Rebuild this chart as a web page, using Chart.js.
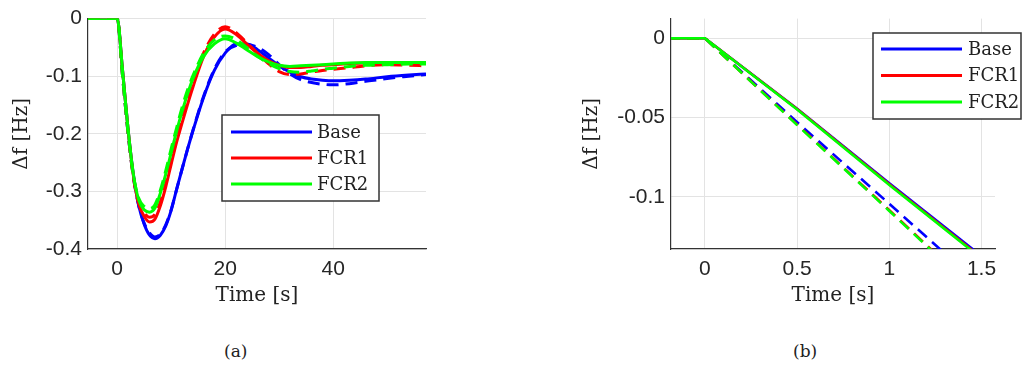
<!DOCTYPE html>
<html>
<head>
<meta charset="utf-8">
<script src="https://cdn.jsdelivr.net/npm/chart.js@4.4.1/dist/chart.umd.min.js"></script>
<style>
  body { margin: 0; background: #fff; width: 1022px; height: 371px; position: relative; overflow: hidden; }
  .wrap { position: absolute; top: 0; height: 310px; }
  .cap { position: absolute; top: 341px; font: 17px "DejaVu Serif", serif; color: #222; }
</style>
</head>
<body>
<div class="wrap" style="left:0;width:440px"><canvas id="chartA"></canvas></div>
<div class="wrap" style="left:570px;width:452px"><canvas id="chartB"></canvas></div>
<div class="cap" style="left:224px">(a)</div>
<div class="cap" style="left:793px">(b)</div>

<script>
// series names (legend)
const seriesNames = ['Base', 'FCR1', 'FCR2'];

// (a) long time response
const timeA = [-5.4, 0, 1, 2, 3, 4, 5, 6, 7, 8, 9, 10, 11, 12, 13, 14, 16, 18, 20, 22, 24, 26, 28, 30, 32, 34, 36, 38, 40, 43, 46, 50, 54, 57.2];
const baseA = [0, 0, -0.09, -0.19, -0.27, -0.325, -0.357, -0.376, -0.382, -0.376, -0.36, -0.333, -0.297, -0.262, -0.228, -0.196, -0.137, -0.09, -0.06, -0.044, -0.044, -0.054, -0.068, -0.082, -0.093, -0.101, -0.105, -0.107, -0.108, -0.107, -0.105, -0.101, -0.098, -0.096];
const fcr1A = [0, 0, -0.09, -0.19, -0.272, -0.322, -0.343, -0.353, -0.348, -0.325, -0.292, -0.253, -0.215, -0.182, -0.15, -0.12, -0.066, -0.032, -0.018, -0.027, -0.044, -0.06, -0.073, -0.081, -0.085, -0.085, -0.083, -0.081, -0.08, -0.078, -0.077, -0.077, -0.078, -0.078];
const fcr2A = [0, 0, -0.09, -0.19, -0.27, -0.315, -0.332, -0.336, -0.329, -0.303, -0.27, -0.233, -0.196, -0.162, -0.132, -0.105, -0.066, -0.044, -0.035, -0.042, -0.054, -0.066, -0.075, -0.081, -0.083, -0.082, -0.081, -0.08, -0.079, -0.077, -0.076, -0.076, -0.076, -0.076];
const baseDashA = [0, 0, -0.1, -0.198, -0.275, -0.325, -0.355, -0.372, -0.379, -0.374, -0.358, -0.332, -0.297, -0.262, -0.228, -0.195, -0.135, -0.088, -0.058, -0.047, -0.045, -0.05, -0.062, -0.08, -0.096, -0.106, -0.111, -0.114, -0.115, -0.113, -0.109, -0.104, -0.1, -0.097];
const fcr1DashA = [0, 0, -0.1, -0.197, -0.275, -0.32, -0.337, -0.345, -0.34, -0.318, -0.286, -0.248, -0.21, -0.176, -0.143, -0.113, -0.06, -0.027, -0.014, -0.024, -0.042, -0.06, -0.078, -0.092, -0.097, -0.096, -0.093, -0.09, -0.088, -0.085, -0.082, -0.08, -0.081, -0.082];
const fcr2DashA = [0, 0, -0.1, -0.196, -0.272, -0.312, -0.326, -0.33, -0.323, -0.298, -0.264, -0.226, -0.19, -0.155, -0.125, -0.1, -0.06, -0.037, -0.03, -0.036, -0.05, -0.065, -0.078, -0.087, -0.092, -0.093, -0.091, -0.088, -0.086, -0.083, -0.081, -0.08, -0.079, -0.079];
const xTicksA = [0, 20, 40];
const yTicksA = [0, -0.1, -0.2, -0.3, -0.4];

// (b) zoom on first 1.5 s
const timeB = [-0.2, 0, 0.5, 1, 1.5];
const baseB = [0, 0, -0.0445, -0.0915, -0.1375];
const fcr1B = [0, 0, -0.0447, -0.0922, -0.1385];
const fcr2B = [0, 0, -0.045, -0.0926, -0.139];
const baseDashB = [0, 0, -0.053, -0.1045, -0.1565];
const fcr1DashB = [0, 0, -0.0545, -0.1085, -0.163];
const fcr2DashB = [0, 0, -0.0548, -0.109, -0.1635];
const xTicksB = [0, 0.5, 1, 1.5];
const yTicksB = [0, -0.05, -0.1];

const colors = ['#0000ff', '#ff0000', '#00ff00'];
const drawOrder = [5, 3, 1]; // green on top, like the figure

function makeDatasets(time, solid, dashed, smooth, width) {
  const ds = [];
  solid.forEach((vals, i) => {
    ds.push({
      label: seriesNames[i], inLegend: true,
      data: time.map((t, k) => ({ x: t, y: vals[k] })),
      borderColor: colors[i], borderWidth: width, pointRadius: 0,
      cubicInterpolationMode: smooth ? 'monotone' : 'default', tension: 0,
      order: drawOrder[i]
    });
    ds.push({
      label: seriesNames[i] + ' (dashed)', inLegend: false,
      data: time.map((t, k) => ({ x: t, y: dashed[i][k] })),
      borderColor: colors[i], borderWidth: width, borderDash: [12, 7], pointRadius: 0,
      cubicInterpolationMode: smooth ? 'monotone' : 'default', tension: 0,
      order: drawOrder[i] + 1
    });
  });
  return ds;
}

// legend box drawn inside the axes, matlab style
const boxLegend = {
  id: 'boxLegend',
  afterDraw(chart, args, opts) {
    const ctx = chart.ctx;
    ctx.save();
    ctx.fillStyle = '#fff';
    ctx.fillRect(opts.x, opts.y, opts.w, opts.h);
    ctx.strokeStyle = '#333';
    ctx.lineWidth = 1.5;
    ctx.strokeRect(opts.x, opts.y, opts.w, opts.h);
    ctx.font = '18px "DejaVu Serif"';
    ctx.textBaseline = 'middle';
    ctx.fillStyle = '#222';
    chart.data.datasets.filter(d => d.inLegend).forEach((d, i) => {
      const yy = opts.y + opts.first + i * opts.step;
      ctx.strokeStyle = d.borderColor;
      ctx.lineWidth = 3;
      ctx.beginPath();
      ctx.moveTo(opts.x + opts.lineStart, yy);
      ctx.lineTo(opts.x + opts.lineStart + 81, yy);
      ctx.stroke();
      ctx.fillText(d.label, opts.x + opts.textStart, yy + 1);
    });
    ctx.restore();
  }
};

const tickFont = { family: '"Liberation Sans", Arial', size: 21 };
const titleFont = { family: '"DejaVu Serif"', size: 20 };

function makeOptions(xMin, xMax, yMin, yMax, xTicks, yTicks, yAxisWidth, legend) {
  return {
    responsive: true,
    maintainAspectRatio: false,
    animation: false,
    layout: { padding: { top: 15, right: legend.padRight, left: 0, bottom: 0 } },
    plugins: { legend: { display: false }, tooltip: { enabled: false }, boxLegend: legend },
    scales: {
      x: {
        type: 'linear', min: xMin, max: xMax,
        afterBuildTicks: s => { s.ticks = xTicks.map(v => ({ value: v })); },
        afterFit: s => { s.height = 61; },
        grid: { color: '#e3e3e3', drawTicks: false },
        border: { color: '#333', width: 1.2 },
        ticks: { font: tickFont, color: '#262626', padding: 8, maxRotation: 0, callback: v => String(v) },
        title: { display: true, text: 'Time [s]', font: titleFont, color: '#222', padding: { top: 0, bottom: 2 } }
      },
      y: {
        type: 'linear', min: yMin, max: yMax,
        afterBuildTicks: s => { s.ticks = yTicks.map(v => ({ value: v })); },
        afterFit: s => { s.width = yAxisWidth; },
        grid: { color: '#e3e3e3', drawTicks: false },
        border: { color: '#333', width: 1.2 },
        ticks: { font: tickFont, color: '#262626', padding: 6, callback: v => String(v) },
        title: { display: true, text: 'Δf [Hz]', font: titleFont, color: '#222', padding: { top: 10, bottom: 0 } }
      }
    }
  };
}

new Chart(document.getElementById('chartA'), {
  type: 'line',
  data: { datasets: makeDatasets(timeA, [baseA, fcr1A, fcr2A], [baseDashA, fcr1DashA, fcr2DashA], true, 3) },
  options: makeOptions(-5.4, 57.2, -0.4, 0, xTicksA, yTicksA, 88,
    { x: 222, y: 115, w: 157, h: 86, first: 17, step: 26, lineStart: 9, textStart: 95, padRight: 14 }),
  plugins: [boxLegend]
});

new Chart(document.getElementById('chartB'), {
  type: 'line',
  data: { datasets: makeDatasets(timeB, [baseB, fcr1B, fcr2B], [baseDashB, fcr1DashB, fcr2DashB], false, 2.6) },
  options: makeOptions(-0.184, 1.573, -0.133, 0.0124, xTicksB, yTicksB, 101,
    { x: 303, y: 33, w: 148, h: 86, first: 16, step: 26.5, lineStart: 8, textStart: 95, padRight: 27 }),
  plugins: [boxLegend]
});
</script>
</body>
</html>
